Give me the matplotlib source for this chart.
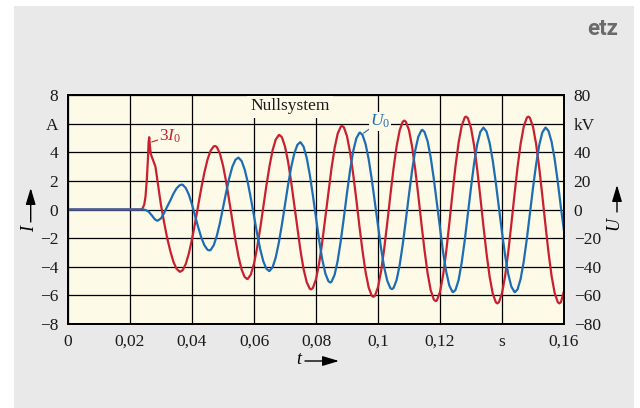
import numpy as np
import matplotlib
matplotlib.use("Agg")
import matplotlib.pyplot as plt
from matplotlib.patches import Rectangle, FancyArrowPatch

# ---------------- data ----------------
# 3I0 (A): onset spike, then 0.001 s samples from 0.029 s to 0.160 s
t_i_onset = [0.0, 0.0238, 0.0240, 0.0246, 0.0250, 0.0254, 0.0258, 0.0260, 0.0262,
             0.0264, 0.0267, 0.0270, 0.0276, 0.0282, 0.0288]
i_onset = [0.0, 0.0, 0.05, 0.35, 0.9, 2.0, 3.6, 4.7, 5.05,
           4.5, 3.9, 3.7, 3.35, 3.0, 2.1]
t_i_main = np.round(np.arange(0.029, 0.1605, 0.001), 4)
i_main = [1.8, 0.3, -0.9, -2.0, -2.9, -3.65, -4.14, -4.34, -4.24, -3.80,
          -3.06, -2.08, -0.94, 0.29, 1.50, 2.59, 3.48, 4.11, 4.41, 4.37,
          3.91, 3.08, 1.95, 0.63, -0.77, -2.12, -3.29, -4.19, -4.72, -4.85,
          -4.53, -3.79, -2.68, -1.32, 0.18, 1.67, 3.03, 4.14, 4.88, 5.20,
          5.05, 4.40, 3.33, 1.91, 0.31, -1.34, -2.88, -4.17, -5.08, -5.54,
          -5.48, -4.87, -3.78, -2.30, -0.58, 1.20, 2.88, 4.29, 5.30, 5.79,
          5.74, 5.12, 3.99, 2.47, 0.71, -1.15, -2.89, -4.38, -5.46, -6.03,
          -6.03, -5.43, -4.30, -2.74, -0.91, 1.02, 2.85, 4.41, 5.54, 6.14,
          6.13, 5.54, 4.39, 2.82, 0.98, -0.97, -2.84, -4.45, -5.64, -6.29,
          -6.35, -5.76, -4.58, -2.94, -0.99, 1.08, 3.03, 4.67, 5.85, 6.44,
          6.38, 5.70, 4.47, 2.81, 0.89, -1.14, -3.05, -4.68, -5.86, -6.48,
          -6.48, -5.85, -4.65, -3.00, -1.05, 0.98, 2.93, 4.58, 5.78, 6.41,
          6.41, 5.78, 4.58, 2.93, 0.98, -1.05, -3.00, -4.65, -5.85, -6.48,
          -6.48, -5.70]
# 3I0 peaks / troughs
t_i_ext = [0.0362, 0.0474, 0.0578, 0.0682, 0.0784, 0.0884, 0.0985,
           0.1085, 0.1186, 0.1284, 0.1385, 0.1485, 0.1585]
i_ext = [-4.35, 4.44, -4.86, 5.21, -5.58, 5.84, -6.10,
         6.21, -6.40, 6.49, -6.56, 6.49, -6.56]

# U0 (kV): 0 s, then 0.001 s samples from 0.024 s to 0.160 s
t_u_onset = [0.0]
u_onset = [0.0]
t_u_main = np.round(np.arange(0.024, 0.1605, 0.001), 4)
u_main = [0.0, -0.3, -1.5, -4.0, -6.8, -7.7, -6.2, -2.5, 2.0, 6.3,
          11.0, 14.7, 16.9, 17.3, 15.0, 10.3, 3.5, -4.4, -12.4, -19.6,
          -25.0, -28.1, -28.3, -25.0, -18.5, -9.5, 1.1, 11.9, 21.8, 29.8,
          34.7, 36.2, 33.9, 27.9, 18.9, 7.6, -4.6, -16.8, -27.7, -36.2,
          -41.4, -43.0, -40.3, -33.6, -23.3, -10.6, 3.4, 17.3, 29.6, 39.2,
          45.2, 47.0, 43.9, 36.1, 24.3, 9.8, -5.9, -21.3, -34.7, -44.6,
          -50.1, -50.5, -45.6, -35.7, -21.8, -5.5, 11.6, 27.5, 40.7, 49.7,
          53.6, 52.1, 45.7, 35.0, 20.9, 4.8, -11.8, -27.3, -40.5, -49.9,
          -55.0, -54.9, -49.3, -38.7, -24.1, -7.1, 10.6, 27.3, 41.2, 50.8,
          55.3, 54.2, 47.7, 36.4, 21.4, 4.3, -13.4, -29.9, -43.5, -53.1,
          -57.5, -56.2, -49.3, -37.1, -21.2, -3.1, 15.4, 32.2, 45.5, 54.2,
          57.2, 54.5, 46.6, 34.4, 18.8, 1.5, -16.0, -32.0, -45.0, -53.8,
          -57.6, -55.9, -48.6, -36.5, -20.8, -3.0, 15.1, 31.5, 44.9, 53.8,
          57.2, 54.9, 47.3, 35.0, 19.2, 1.5, -15.0]
# U0 peaks / troughs (kV)
t_u_ext = [0.0287, 0.0367, 0.0456, 0.0549, 0.0649, 0.0749, 0.0846,
           0.0942, 0.1045, 0.1143, 0.1243, 0.1442, 0.1541]
u_ext = [-7.8, 17.4, -28.6, 36.2, -43.0, 47.0, -51.0,
         53.7, -55.6, 55.6, -57.7, -57.7, 57.2]

x_ticks = [0, 0.02, 0.04, 0.06, 0.08, 0.10, 0.12, 0.14, 0.16]
x_labels = ["0", "0,02", "0,04", "0,06", "0,08", "0,1", "0,12", "s", "0,16"]
i_ticks = [-8, -6, -4, -2, 0, 2, 4, 6, 8]
i_labels = ["\u22128", "\u22126", "\u22124", "\u22122", "0", "2", "4", "A", "8"]
u_ticks = [-80, -60, -40, -20, 0, 20, 40, 60, 80]
u_labels = ["\u221280", "\u221260", "\u221240", "\u221220", "0", "20", "40", "kV", "80"]


def merge(*pairs):
    t = np.concatenate([np.asarray(p[0], float) for p in pairs])
    v = np.concatenate([np.asarray(p[1], float) for p in pairs])
    order = np.argsort(t, kind="stable")
    return t[order], v[order]


t_i, i_vals = merge((t_i_onset, i_onset), (t_i_main, i_main), (t_i_ext, i_ext))
t_u, u_vals = merge((t_u_onset, u_onset), (t_u_main, u_main), (t_u_ext, u_ext))

# ---------------- style ----------------
RED = "#c8202f"
BLUE = "#1c6db4"
CREAM = "#fefae8"
GRAY = "#e9e9e9"

plt.rcParams["font.family"] = ["Liberation Serif", "DejaVu Serif"]
plt.rcParams["mathtext.fontset"] = "custom"
plt.rcParams["mathtext.rm"] = "Liberation Serif"
plt.rcParams["mathtext.it"] = "Liberation Serif:italic"

W, H = 640, 408
fig = plt.figure(figsize=(W / 100, H / 100), dpi=100)
fig.patch.set_facecolor("white")
fig.patches.append(Rectangle((14 / W, 0), 620 / W, 402 / H, transform=fig.transFigure,
                             facecolor=GRAY, edgecolor="none", zorder=-10))

ax = fig.add_axes([68 / W, 1 - 324 / H, 496 / W, 229 / H])
ax.set_facecolor(CREAM)
ax.set_axisbelow(True)
ax.set_xlim(0, 0.16)
ax.set_ylim(-8, 8)
ax.set_xticks(x_ticks)
ax.set_xticklabels(x_labels)
ax.set_yticks(i_ticks)
ax.set_yticklabels(i_labels)
ax.grid(True, color="black", lw=0.9)
ax.tick_params(length=0, labelsize=12.5, colors="#1a1a1a", pad=7)
for s in ax.spines.values():
    s.set_linewidth(1.3)
    s.set_color("black")

ax.plot(t_i, i_vals, color=RED, lw=1.6, zorder=2, solid_joinstyle="round")

ax2 = ax.twinx()
ax2.set_ylim(-80, 80)
ax2.set_yticks(u_ticks)
ax2.set_yticklabels(u_labels)
ax2.tick_params(length=0, labelsize=12.5, colors="#1a1a1a", pad=7)
for s in ax2.spines.values():
    s.set_linewidth(1.3)
ax2.plot(t_u, u_vals, color=BLUE, lw=1.6, zorder=2, solid_joinstyle="round")

# texts
ax.text(0.0716, 7.2, "Nullsystem", ha="center", va="center", fontsize=12.5,
        color="#1a1a1a", zorder=2.2,
        bbox=dict(facecolor=CREAM, edgecolor="none", pad=2.5))
ax.annotate(r"$3I_0$", xy=(0.0270, 4.72), xytext=(0.0292, 5.12),
            color=RED, fontsize=12.5, ha="left", va="center", zorder=2.2,
            bbox=dict(facecolor=CREAM, edgecolor="none", pad=0.5),
            arrowprops=dict(arrowstyle="-", color=RED, lw=0.8,
                            shrinkA=0, shrinkB=0))
ax2.annotate(r"$U_0$", xy=(0.0953, 53.3), xytext=(0.0974, 61.5),
             color=BLUE, fontsize=12.5, ha="left", va="center", zorder=2.2,
             bbox=dict(facecolor=CREAM, edgecolor="none", pad=0.5),
             arrowprops=dict(arrowstyle="-", color=BLUE, lw=0.8,
                             shrinkA=0, shrinkB=0))

# axis labels with arrows
arrow = dict(arrowstyle="-|>,head_length=1.0,head_width=0.3", color="black",
             lw=1.0, shrinkA=0, shrinkB=0, mutation_scale=10)
fig.text(30 / W, 1 - 228 / H, r"$I$", rotation=90, ha="center", va="center", fontsize=13)
fig.add_artist(FancyArrowPatch((30.7 / W, 1 - 222 / H), (30.7 / W, 1 - 188 / H),
                               transform=fig.transFigure, **arrow))
fig.text(616 / W, 1 - 224 / H, r"$U$", rotation=90, ha="center", va="center", fontsize=13)
fig.add_artist(FancyArrowPatch((617 / W, 1 - 212 / H), (617 / W, 1 - 185 / H),
                               transform=fig.transFigure, **arrow))
fig.text(300 / W, 1 - 360 / H, r"$t$", ha="center", va="center", fontsize=13)
fig.add_artist(FancyArrowPatch((305 / W, 1 - 361 / H), (339 / W, 1 - 361 / H),
                               transform=fig.transFigure, **arrow))

fig.text(603 / W, 1 - 29 / H, "etz", ha="center", va="center", fontsize=16,
         fontweight="bold", color="#6a6a6a", family=["Roboto", "DejaVu Sans"])

fig.savefig("out.png", dpi=100, facecolor="white")
